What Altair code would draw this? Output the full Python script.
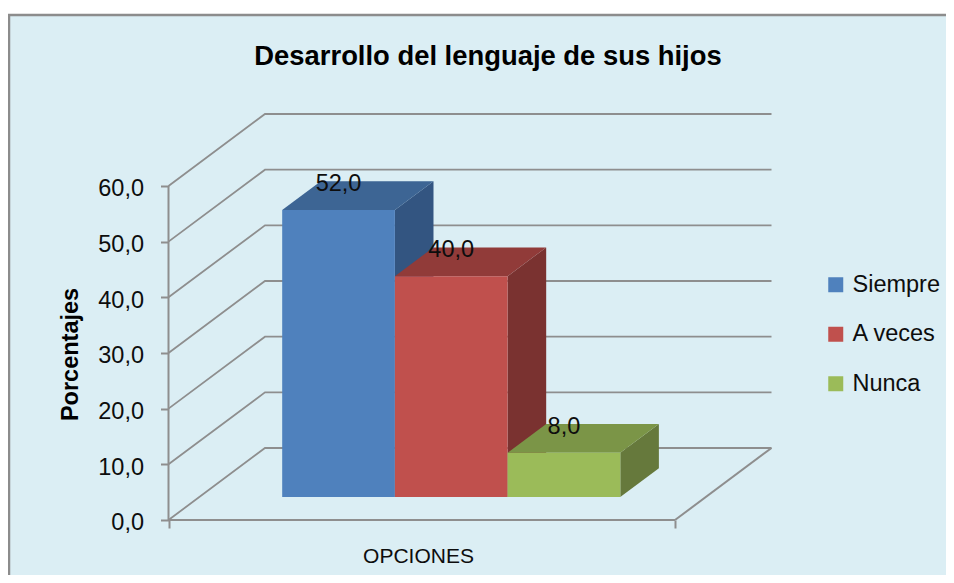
import altair as alt
import pandas as pd

# ---- values ----
categories = ["Siempre", "A veces", "Nunca"]
percentages = [52.0, 40.0, 8.0]
front_colors = ["#4F81BD", "#C0504D", "#9BBB59"]
top_colors = ["#3D6594", "#913B39", "#7B9547"]
side_colors = ["#335581", "#7A3230", "#66793C"]
tick_values = [0, 10, 20, 30, 40, 50, 60]
title_text = "Desarrollo del lenguaje de sus hijos"
y_title = "Porcentajes"
x_title = "OPCIONES"

# ---- scale layout: x is a fraction of the floor width, y is the percentage ----
X_DOMAIN = [-0.3149, 1.5350]
Y_DOMAIN = [-9.88, 90.71]
DX, DY = 0.1905, 12.93          # projected depth of the whole floor
BAR_X0, BAR_W = 0.1635, 0.2225  # first bar start and bar width
NEAR, FAR = 0.32, 0.72          # depth range occupied by the bars
PERSPECTIVE = 0.9914            # bars sit deeper than the front axis plane

FONT = "Liberation Sans"
GRID = "#8E8E8E"
x_scale = alt.Scale(domain=X_DOMAIN, nice=False, zero=False)
y_scale = alt.Scale(domain=Y_DOMAIN, nice=False, zero=False)

X = alt.X("x:Q", scale=x_scale, axis=alt.Axis(
    orient="bottom", offset=-55, values=[0, 1], labels=False, domain=False, grid=False,
    tickColor=GRID, tickSize=8, tickWidth=2,
    title=x_title, titleFont=FONT, titleFontSize=21, titleFontWeight="normal",
    titleColor="#0d0d0d", titleX=409, titleY=25))
Y = alt.Y("y:Q", scale=y_scale, axis=alt.Axis(
    orient="left", offset=-159.5, values=tick_values, domain=False, grid=False,
    tickColor=GRID, tickSize=8, tickWidth=2, labelPadding=17, labelOffset=3,
    labelExpr="replace(format(datum.value, '.1f'), '.', ',')",
    labelFont=FONT, labelFontSize=23.5, labelColor="#0d0d0d",
    title=y_title, titleFont=FONT, titleFontSize=23.5, titleFontWeight="bold",
    titleColor="#000000", titleAngle=270, titleX=-86, titleY=339))

layers = []

# frame (left and top edges of the chart area)
frame = pd.DataFrame({"x": [X_DOMAIN[0], X_DOMAIN[0], X_DOMAIN[1]],
                      "y": [Y_DOMAIN[0], Y_DOMAIN[1], Y_DOMAIN[1]],
                      "o": [0, 1, 2]})
layers.append(alt.Chart(frame).mark_line(color="#8C8C8C", strokeWidth=2.5, clip=False)
              .encode(x=X, y=Y, order=alt.Order("o:Q")))

# walls
rows = []
for v in tick_values:
    rows += [{"x": 0, "y": v, "k": v}, {"x": DX, "y": v + DY, "k": v},
             {"x": 1 + DX, "y": v + DY, "k": v}]
layers.append(alt.Chart(pd.DataFrame(rows)).mark_line(color=GRID, strokeWidth=1.8)
              .encode(x=X, y=Y, detail="k:N"))

# front axis line, front floor edge, right floor edge
segs = pd.DataFrame({"x": [0, 0, 0, 1, 1, 1 + DX], "y": [0, 60, 0, 0, 0, DY],
                     "k": ["a", "a", "b", "b", "c", "c"]})
layers.append(alt.Chart(segs).mark_line(color=GRID, strokeWidth=2)
              .encode(x=X, y=Y, detail="k:N"))

# bars
near_y, far_y = NEAR * DY, FAR * DY
near_x, far_x = NEAR * DX, FAR * DX
labels = []
for i, (cat, val) in enumerate(zip(categories, percentages)):
    left = BAR_X0 + i * BAR_W + near_x
    right = left + BAR_W
    h = val * PERSPECTIVE
    side = pd.DataFrame({"x": [right, right + far_x - near_x],
                         "y": [near_y, far_y], "y2": [h + near_y, h + far_y]})
    layers.append(alt.Chart(side).mark_area(color=side_colors[i], opacity=1, line=False)
                  .encode(x=X, y=Y, y2="y2:Q"))
    top = pd.DataFrame({"x": [left, left + far_x - near_x],
                        "x2": [right, right + far_x - near_x],
                        "y": [h + near_y, h + far_y]})
    layers.append(alt.Chart(top).mark_area(color=top_colors[i], opacity=1, orient="horizontal")
                  .encode(x=X, x2="x2:Q", y=Y))
    front = pd.DataFrame({"x": [left], "x2": [right], "y": [near_y], "y2": [h + near_y],
                          "Serie": [cat]})
    layers.append(alt.Chart(front).mark_rect().encode(
        x=X, x2="x2:Q", y=Y, y2="y2:Q",
        color=alt.Color("Serie:N",
                        scale=alt.Scale(domain=categories, range=front_colors),
                        sort=categories,
                        legend=alt.Legend(orient="none", legendX=815, legendY=258, title=None,
                                          symbolType="square", symbolSize=225,
                                          symbolStrokeWidth=0, symbolOpacity=1,
                                          labelFont=FONT, labelFontSize=23.5,
                                          labelColor="#0d0d0d", labelLimit=200,
                                          rowPadding=24.5, labelOffset=5))))
    labels.append({"x": (left + right) / 2, "y": h + far_y - 0.5, "t": f"{val:.1f}".replace(".", ",")})

layers.append(alt.Chart(pd.DataFrame(labels)).mark_text(
    font=FONT, fontSize=23.5, color="#0d0d0d", baseline="middle", align="center"
).encode(x=X, y=Y, text="t:N"))

chart = alt.layer(*layers).properties(
    width=937, height=560,
    title=alt.TitleParams(title_text, font=FONT, fontSize=27.4, fontWeight="bold", color="#000000",
                          anchor="middle", dx=10.5, dy=64),
    padding={"left": 1, "top": 7, "right": 0, "bottom": 0},
    background="white",
    autosize=alt.AutoSizeParams(type="none"),
).resolve_scale(color="shared").configure_view(fill="#DBEEF4", stroke=None)

chart.save("out.html", embed_options={"renderer": "svg", "actions": False})
